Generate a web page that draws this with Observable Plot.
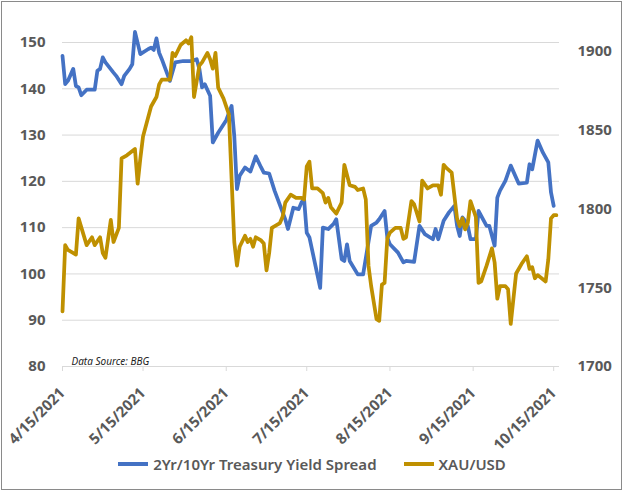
<!DOCTYPE html>
<html><head><meta charset="utf-8">
<script src="https://cdn.jsdelivr.net/npm/d3@7"></script>
<script src="https://cdn.jsdelivr.net/npm/@observablehq/plot@0.6"></script>
<style>
body{margin:0;background:#fff;font-family:"Noto Sans",sans-serif;}
#frame{position:absolute;left:1px;top:1px;width:621px;height:489px;border:1px solid #8a8a8a;box-sizing:border-box;}
#chart{position:absolute;left:0;top:0;}
#legend{position:absolute;left:0;top:454px;width:624px;display:flex;justify-content:center;align-items:center;font:600 15px "Noto Sans",sans-serif;color:#595959;}
.item{display:flex;align-items:center;}
.sw{display:inline-block;width:30px;height:4px;margin-right:5px;}
</style></head><body>
<div id="frame"></div><div id="chart"></div><div id="legend"></div>
<script>
// 2Yr/10Yr Treasury Yield Spread (bps), left axis
const spreadDates = ["2021-04-15","2021-04-16","2021-04-17","2021-04-19","2021-04-20","2021-04-21","2021-04-22","2021-04-24","2021-04-27","2021-04-28","2021-04-29","2021-04-30","2021-05-01","2021-05-04","2021-05-05","2021-05-07","2021-05-08","2021-05-10","2021-05-11","2021-05-12","2021-05-14","2021-05-17","2021-05-18","2021-05-19","2021-05-20","2021-05-21","2021-05-22","2021-05-25","2021-05-27","2021-05-30","2021-06-02","2021-06-04","2021-06-05","2021-06-06","2021-06-07","2021-06-09","2021-06-10","2021-06-12","2021-06-15","2021-06-17","2021-06-18","2021-06-19","2021-06-20","2021-06-22","2021-06-24","2021-06-26","2021-06-28","2021-06-29","2021-07-01","2021-07-03","2021-07-07","2021-07-08","2021-07-10","2021-07-12","2021-07-13","2021-07-14","2021-07-15","2021-07-16","2021-07-20","2021-07-21","2021-07-23","2021-07-25","2021-07-26","2021-07-28","2021-07-29","2021-07-30","2021-07-31","2021-08-03","2021-08-05","2021-08-08","2021-08-10","2021-08-11","2021-08-13","2021-08-14","2021-08-15","2021-08-18","2021-08-20","2021-08-21","2021-08-24","2021-08-26","2021-08-28","2021-08-31","2021-09-01","2021-09-02","2021-09-04","2021-09-06","2021-09-08","2021-09-09","2021-09-10","2021-09-11","2021-09-12","2021-09-13","2021-09-14","2021-09-16","2021-09-17","2021-09-20","2021-09-21","2021-09-23","2021-09-24","2021-09-25","2021-09-27","2021-09-29","2021-10-02","2021-10-05","2021-10-06","2021-10-07","2021-10-09","2021-10-11","2021-10-13","2021-10-14","2021-10-15"];
const spreadValues = [147.1,141.0,141.7,144.3,140.6,140.3,138.6,139.8,139.8,143.9,144.3,146.8,145.7,143.5,142.8,141.0,142.8,144.3,145.3,152.3,147.5,148.6,148.9,148.4,150.9,147.8,146.4,141.7,145.7,146.0,146.0,146.4,144.3,140.3,141.0,138.5,128.4,130.5,133.2,136.3,129.8,118.3,121.2,123.0,122.1,125.4,123.0,121.9,121.7,118.0,111.8,109.7,114.3,114.0,115.4,116.2,108.9,107.9,97.0,110.0,109.7,110.8,111.8,103.2,102.8,106.4,102.8,99.9,99.9,110.4,111.1,111.8,113.6,107.9,106.4,104.6,102.5,102.8,102.6,110.4,108.6,107.5,109.7,107.5,111.5,113.3,114.7,110.4,108.2,112.2,111.5,110.4,107.5,107.5,113.6,110.4,110.4,106.1,116.5,118.0,120.1,123.4,119.5,119.7,123.7,122.6,128.8,126.2,124.1,117.6,114.7];

// XAU/USD, right axis
const goldDates = ["2021-04-15","2021-04-16","2021-04-17","2021-04-20","2021-04-21","2021-04-24","2021-04-26","2021-04-27","2021-04-29","2021-04-30","2021-05-01","2021-05-03","2021-05-04","2021-05-06","2021-05-07","2021-05-09","2021-05-12","2021-05-13","2021-05-14","2021-05-15","2021-05-18","2021-05-20","2021-05-21","2021-05-22","2021-05-25","2021-05-26","2021-05-27","2021-05-29","2021-05-31","2021-06-01","2021-06-02","2021-06-03","2021-06-05","2021-06-06","2021-06-08","2021-06-09","2021-06-10","2021-06-11","2021-06-12","2021-06-14","2021-06-16","2021-06-17","2021-06-18","2021-06-19","2021-06-20","2021-06-22","2021-06-23","2021-06-24","2021-06-25","2021-06-26","2021-06-28","2021-06-29","2021-06-30","2021-07-01","2021-07-02","2021-07-05","2021-07-06","2021-07-07","2021-07-09","2021-07-11","2021-07-13","2021-07-14","2021-07-15","2021-07-16","2021-07-17","2021-07-19","2021-07-21","2021-07-22","2021-07-23","2021-07-24","2021-07-26","2021-07-28","2021-07-29","2021-07-31","2021-08-02","2021-08-03","2021-08-05","2021-08-06","2021-08-07","2021-08-08","2021-08-10","2021-08-11","2021-08-12","2021-08-13","2021-08-14","2021-08-15","2021-08-17","2021-08-19","2021-08-20","2021-08-21","2021-08-23","2021-08-24","2021-08-26","2021-08-27","2021-08-29","2021-08-31","2021-09-02","2021-09-03","2021-09-04","2021-09-05","2021-09-07","2021-09-09","2021-09-10","2021-09-11","2021-09-12","2021-09-13","2021-09-14","2021-09-16","2021-09-17","2021-09-18","2021-09-20","2021-09-22","2021-09-23","2021-09-24","2021-09-25","2021-09-27","2021-09-28","2021-09-29","2021-10-01","2021-10-03","2021-10-05","2021-10-06","2021-10-07","2021-10-08","2021-10-09","2021-10-12","2021-10-13","2021-10-14","2021-10-15","2021-10-16"];
const goldValues = [1735,1777,1774,1771,1794,1777,1782,1777,1782,1772,1769,1793,1779,1788,1832,1834,1838,1816,1832,1846,1865,1871,1879,1882,1882,1899,1897,1904,1907,1905,1909,1871,1891,1893,1899,1895,1889,1899,1877,1870,1860,1819,1779,1764,1776,1783,1779,1781,1776,1782,1780,1778,1761,1772,1788,1791,1795,1804,1809,1807,1807,1806,1827,1830,1813,1813,1810,1804,1807,1801,1797,1804,1828,1815,1814,1812,1813,1806,1764,1751,1730,1729,1752,1753,1781,1785,1788,1788,1781,1782,1805,1803,1792,1818,1813,1815,1815,1809,1828,1826,1823,1794,1789,1794,1787,1791,1805,1795,1753,1754,1764,1775,1766,1743,1751,1751,1749,1727,1759,1765,1770,1762,1763,1756,1758,1754,1768,1794,1796,1796];

const leftTicks = [80, 90, 100, 110, 120, 130, 140, 150];
const rightTicks = [1700, 1750, 1800, 1850, 1900];
const xTickDates = ["2021-04-15","2021-05-15","2021-06-15","2021-07-15","2021-08-15","2021-09-15","2021-10-15"];
const leftDomain = [80, 150];
const rightDomain = [1700, 1905.6];
const xDomain = ["2021-04-15T00:00Z", "2021-10-17T04:00Z"];
const seriesNames = ["2Yr/10Yr Treasury Yield Spread", "XAU/USD"];
const colors = ["#4472C4", "#BF9000"];
const sourceNote = "Data Source: BBG";

const k = (leftDomain[1] - leftDomain[0]) / (rightDomain[1] - rightDomain[0]);
const goldToLeft = g => leftDomain[0] + (g - rightDomain[0]) * k;
const leftToGold = v => rightDomain[0] + (v - leftDomain[0]) / k;
const parse = d3.utcParse("%Y-%m-%d");

const spread = spreadDates.map((d, i) => ({date: parse(d), v: spreadValues[i]}));
const gold = goldDates.map((d, i) => ({date: parse(d), v: goldToLeft(goldValues[i])}));

const plot = Plot.plot({
  width: 624, height: 440,
  marginLeft: 62, marginRight: 65, marginTop: 42, marginBottom: 74,
  style: {fontFamily: "'Noto Sans', sans-serif", fontSize: "15px", fontWeight: "bold", color: "#595959", background: "transparent", overflow: "visible"},
  x: {type: "utc", domain: xDomain.map(d => new Date(d)), label: null},
  y: {domain: leftDomain, label: null},
  marks: [
    Plot.gridY(leftTicks.slice(1), {stroke: "#d9d9d9", strokeOpacity: 1, strokeWidth: 1}),
    Plot.ruleY([leftDomain[0]], {stroke: "#d9d9d9", strokeWidth: 1}),
    Plot.axisX(xTickDates.map(parse), {tickSize: 5, tickPadding: 19, tickRotate: -45, stroke: "#d9d9d9", fill: "#595959", tickFormat: d3.utcFormat("%-m/%-d/%Y"), label: null}),
    Plot.axisY(leftTicks, {anchor: "left", tickSize: 0, tickPadding: 17, fill: "#595959", label: null}),
    Plot.axisY(rightTicks.map(goldToLeft), {anchor: "right", tickSize: 0, tickPadding: 18, fill: "#595959", label: null, tickFormat: d => String(Math.round(leftToGold(d)))}),
    Plot.text([sourceNote], {frameAnchor: "bottom-left", dx: 9, dy: -2, fontStyle: "italic", fontWeight: "normal", fontSize: 10, fill: "#222"}),
    Plot.line(spread, {x: "date", y: "v", stroke: colors[0], strokeWidth: 3.75, strokeLinejoin: "round", strokeLinecap: "round"}),
    Plot.line(gold, {x: "date", y: "v", stroke: colors[1], strokeWidth: 3.75, strokeLinejoin: "round", strokeLinecap: "round"})
  ]
});
document.getElementById("chart").appendChild(plot);

const legend = document.getElementById("legend");
seriesNames.forEach((name, i) => {
  const item = document.createElement("div");
  item.className = "item";
  if (i > 0) item.style.marginLeft = "27px";
  const sw = document.createElement("span");
  sw.className = "sw";
  sw.style.background = colors[i];
  item.appendChild(sw);
  const t = document.createElement("span");
  t.textContent = name;
  item.appendChild(t);
  legend.appendChild(item);
});
</script>
</body></html>
